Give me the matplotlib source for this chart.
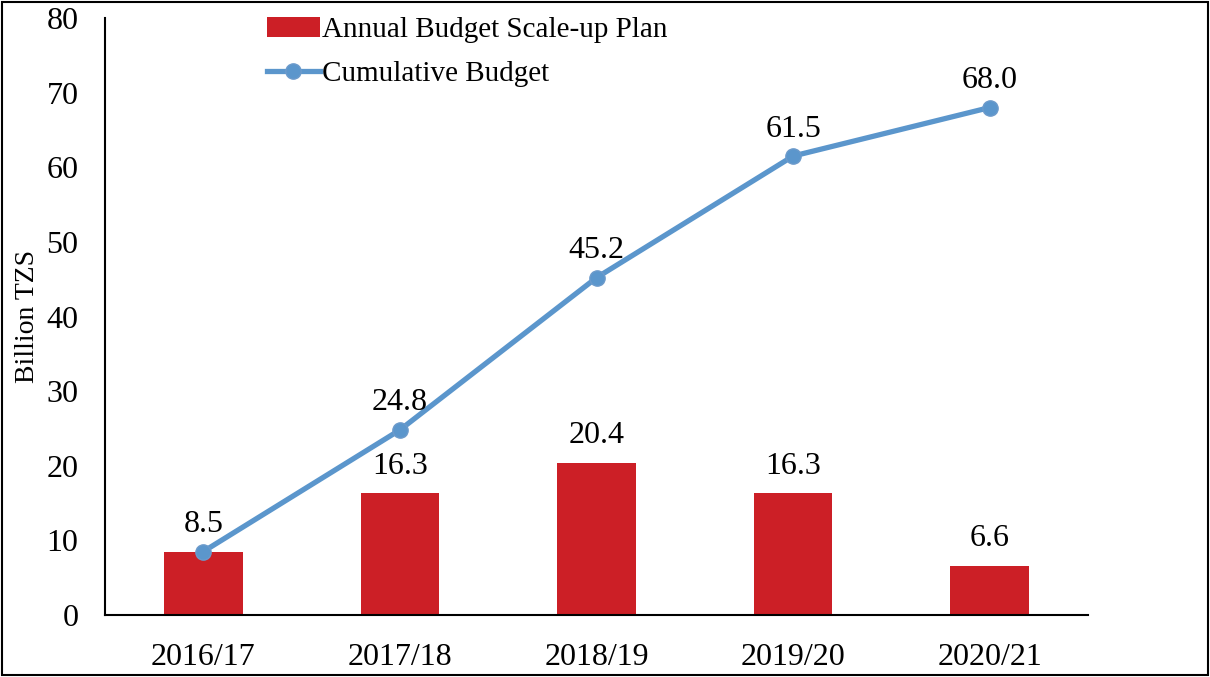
import matplotlib.pyplot as plt
from matplotlib.patches import Rectangle

# Budget data (Billion TZS)
years = ["2016/17", "2017/18", "2018/19", "2019/20", "2020/21"]
annual = [8.5, 16.3, 20.4, 16.3, 6.6]
cumulative = [8.5, 24.8, 45.2, 61.5, 68.0]

plt.rcParams["font.family"] = ["Liberation Serif", "DejaVu Serif"]

fig = plt.figure(figsize=(12.1, 6.77), dpi=100)
ax = fig.add_axes([105 / 1210, 62 / 677, 983 / 1210, 597 / 677])

x = range(len(years))
bars = ax.bar(x, annual, width=0.4, color="#CC1F26", label="Annual Budget Scale-up Plan", zorder=2)
line, = ax.plot(x, cumulative, color="#5B96CC", linewidth=3.8, marker="o", markersize=11,
                markerfacecolor="#5B96CC", markeredgecolor="#6C9ACB", label="Cumulative Budget", zorder=3)

# data labels
for i, v in enumerate(annual):
    if i == 0:
        continue
    ax.annotate(f"{v:.1f}", (i, v), xytext=(0, 9), textcoords="offset points",
                ha="center", va="bottom", fontsize=23)
for i, v in enumerate(cumulative):
    ax.annotate(f"{v:.1f}", (i, v), xytext=(0, 9), textcoords="offset points",
                ha="center", va="bottom", fontsize=23)

ax.set_xlim(-0.5, len(years) - 0.5)
ax.set_ylim(0, 80)
ax.set_yticks(range(0, 81, 10))
ax.set_xticks(list(x))
ax.set_xticklabels(years)
ax.tick_params(axis="both", length=0, labelsize=23)
ax.tick_params(axis="y", pad=19)
ax.tick_params(axis="x", pad=20)
ax.set_ylabel("Billion TZS", fontsize=20)
ax.yaxis.set_label_coords(-0.066, 0.5)

for s in ["top", "right"]:
    ax.spines[s].set_visible(False)
ax.spines["left"].set_linewidth(1.5)
ax.spines["bottom"].set_linewidth(1.5)

ax.legend([bars, line], ["Annual Budget Scale-up Plan", "Cumulative Budget"],
          loc="upper left", bbox_to_anchor=(0.150, 1.026), frameon=False, fontsize=21,
          borderpad=0, handlelength=1.8, handletextpad=0.1, labelspacing=0.58)

fig.patches.append(Rectangle((0.002, 0.003), 0.996, 0.994, transform=fig.transFigure,
                             fill=False, edgecolor="black", linewidth=1.5))

fig.savefig("out.png", dpi=100)
